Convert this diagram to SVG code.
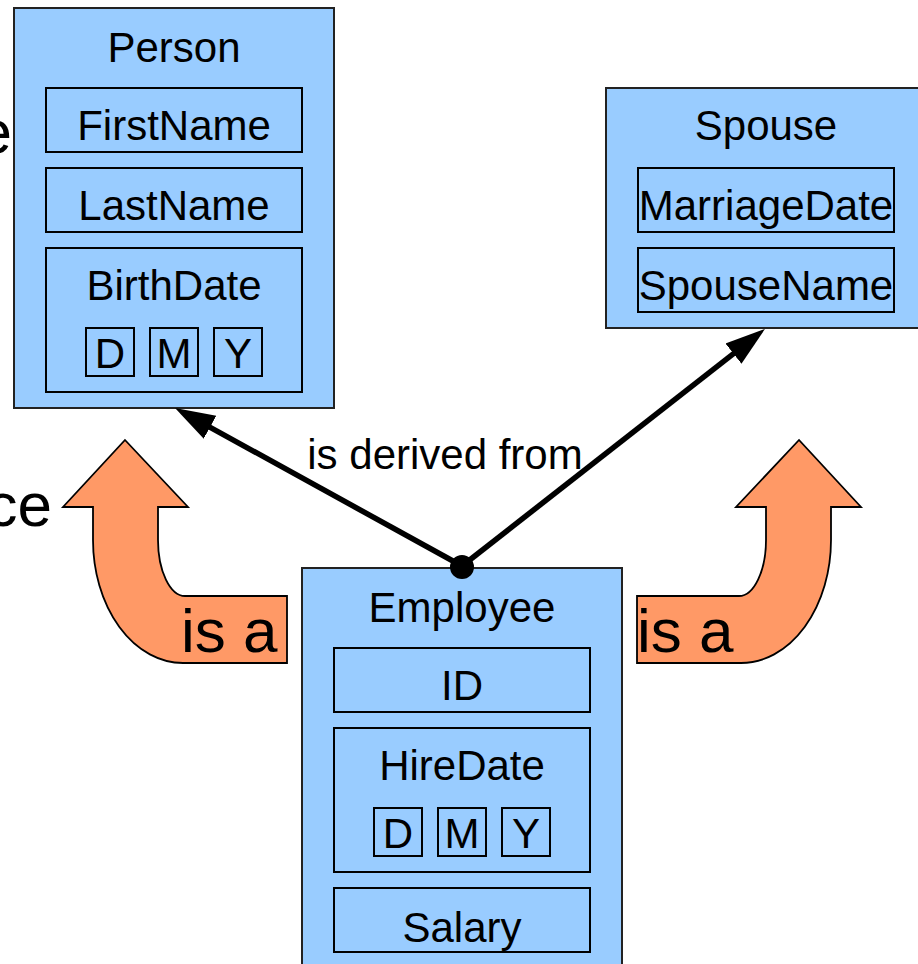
<svg xmlns="http://www.w3.org/2000/svg" width="918" height="964" viewBox="0 0 918 964">
  <defs>
    <style>
      .box { fill: #99ccff; stroke: #222; stroke-width: 2; }
      .field { fill: #99ccff; stroke: #000; stroke-width: 2; }
      .lbl { font-family: "Liberation Sans", Arial, sans-serif; font-size: 42px; fill: #000; text-anchor: middle; }
      .big { font-family: "Liberation Sans", Arial, sans-serif; font-size: 62px; fill: #000; }
      .bend { fill: #ff9966; stroke: #000; stroke-width: 1.8; stroke-linejoin: miter; }
      .link { fill: none; stroke: #000; stroke-width: 5.5; }
    </style>
    <marker id="head" markerUnits="userSpaceOnUse" viewBox="0 0 40 30" markerWidth="40" markerHeight="30" refX="20" refY="15" orient="auto">
      <path d="M0,2 L40,15 L0,28 Z" fill="#000"/>
    </marker>
    <!-- curved "is a" arrow: head up, tail bending right into a label slab -->
    <path id="bendArrow" d="M125,440 L188,507 L158,507 L158,540 A27,56 0 0 0 185,596 L287,596 L287,663 L183,663 A90,123 0 0 1 93,540 L93,507 L63,507 Z"/>
  </defs>

  <!-- partially visible captions at the left edge -->
  <text class="big" x="12" y="153" text-anchor="end">e</text>
  <text class="big" x="52" y="526" text-anchor="end">ce</text>

  <!-- Person -->
  <g id="person">
    <rect class="box" x="14" y="8" width="320" height="400"/>
    <text class="lbl" x="174" y="62">Person</text>
    <rect class="field" x="46" y="88" width="256" height="64"/>
    <text class="lbl" x="174" y="140">FirstName</text>
    <rect class="field" x="46" y="168" width="256" height="64"/>
    <text class="lbl" x="174" y="220">LastName</text>
    <rect class="field" x="46" y="248" width="256" height="144"/>
    <text class="lbl" x="174" y="300">BirthDate</text>
    <rect class="field" x="86" y="328" width="48" height="48"/>
    <text class="lbl" x="110" y="368">D</text>
    <rect class="field" x="150" y="328" width="48" height="48"/>
    <text class="lbl" x="174" y="368">M</text>
    <rect class="field" x="214" y="328" width="48" height="48"/>
    <text class="lbl" x="238" y="368">Y</text>
  </g>

  <!-- Spouse -->
  <g id="spouse">
    <rect class="box" x="606" y="88" width="320" height="240"/>
    <text class="lbl" x="766" y="140">Spouse</text>
    <rect class="field" x="638" y="168" width="256" height="64"/>
    <text class="lbl" x="766" y="220">MarriageDate</text>
    <rect class="field" x="638" y="248" width="256" height="64"/>
    <text class="lbl" x="766" y="300">SpouseName</text>
  </g>

  <!-- Employee -->
  <g id="employee">
    <rect class="box" x="302" y="568" width="320" height="410"/>
    <text class="lbl" x="462" y="622">Employee</text>
    <rect class="field" x="334" y="648" width="256" height="64"/>
    <text class="lbl" x="462" y="700">ID</text>
    <rect class="field" x="334" y="728" width="256" height="144"/>
    <text class="lbl" x="462" y="780">HireDate</text>
    <rect class="field" x="374" y="808" width="48" height="48"/>
    <text class="lbl" x="398" y="848">D</text>
    <rect class="field" x="438" y="808" width="48" height="48"/>
    <text class="lbl" x="462" y="848">M</text>
    <rect class="field" x="502" y="808" width="48" height="48"/>
    <text class="lbl" x="526" y="848">Y</text>
    <rect class="field" x="334" y="888" width="256" height="64"/>
    <text class="lbl" x="462" y="942">Salary</text>
  </g>

  <!-- "is a" bent arrows -->
  <g id="isa-left">
    <use href="#bendArrow" class="bend"/>
    <text class="big" x="181" y="652">is a</text>
  </g>
  <g id="isa-right">
    <use href="#bendArrow" class="bend" transform="translate(924,0) scale(-1,1)"/>
    <text class="big" x="637" y="652">is a</text>
  </g>

  <!-- derivation connectors -->
  <g id="connectors">
    <line class="link" x1="462" y1="566" x2="192.5" y2="417.6" marker-end="url(#head)"/>
    <line class="link" x1="462" y1="566" x2="749.2" y2="341.3" marker-end="url(#head)"/>
    <circle cx="462" cy="567" r="12" fill="#000"/>
    <text class="lbl" x="445" y="469">is derived from</text>
  </g>
</svg>
